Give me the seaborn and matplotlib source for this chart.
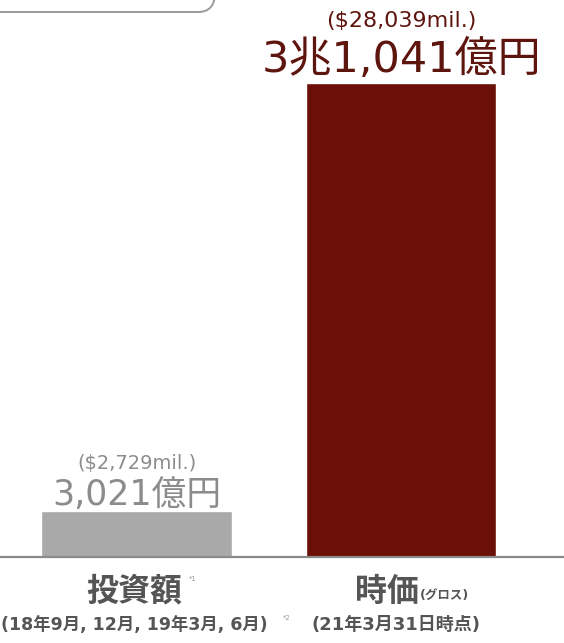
import matplotlib
matplotlib.use("Agg")
import matplotlib.pyplot as plt
from matplotlib.patches import FancyBboxPatch
import seaborn as sns
import pandas as pd

# Investment amount vs. market value (100 million yen)
categories = ["投資額", "時価"]
values_oku = [3021, 31041]
value_labels = ["3,021億円", "3兆1,041億円"]
usd_labels = ["($2,729mil.)", "($28,039mil.)"]
sub_notes = ["(18年9月, 12月, 19年3月, 6月)", "(21年3月31日時点)"]
bar_colors = ["#a9a9a9", "#6a1006"]
text_colors = ["#8c8c8c", "#5e150e"]

sns.set_theme(style="white")
plt.rcParams["font.family"] = ["DejaVu Sans", "Noto Sans CJK JP"]

df = pd.DataFrame({"cat": categories, "val": values_oku})

fig = plt.figure(figsize=(5.64, 6.43), dpi=100)
ax = fig.add_axes([0, 86 / 643, 1, 557 / 643])

sns.barplot(data=df, x="cat", y="val", hue="cat", palette=bar_colors,
            width=0.72, legend=False, ax=ax, saturation=1)

ax.set_xlim(-0.516, 1.616)
ax.set_ylim(0, values_oku[1] * 557 / 474)
ax.set_xlabel("")
ax.set_ylabel("")
ax.set_xticks([])
ax.set_yticks([])
for side in ["top", "left", "right"]:
    ax.spines[side].set_visible(False)
ax.spines["bottom"].set_color("#8a8a8a")
ax.spines["bottom"].set_linewidth(1.6)

# value labels above each bar (offsets in points, measured to the baseline)
big_sizes = [25, 31]
usd_sizes = [14, 16]
big_offsets = [4.5, 8]
usd_offsets = [30.5, 40]
for i, v in enumerate(values_oku):
    ax.annotate(value_labels[i], (i, v), xytext=(0, big_offsets[i]),
                textcoords="offset points", ha="center", va="baseline",
                fontsize=big_sizes[i], color=text_colors[i])
    ax.annotate(usd_labels[i], (i, v), xytext=(0, usd_offsets[i]),
                textcoords="offset points", ha="center", va="baseline",
                fontsize=usd_sizes[i], color=text_colors[i])

# category labels below the baseline
label_color = "#555555"
fig.text(134 / 564, 1 - 592 / 643, categories[0], ha="center", va="center",
         fontsize=23, fontweight="bold", color=label_color)
fig.text(189 / 564, 1 - 579 / 643, "*1", ha="left", va="center",
         fontsize=5, color="#999999")
fig.text(134 / 564, 1 - 625 / 643, sub_notes[0], ha="center", va="center",
         fontsize=12.5, fontweight="bold", color=label_color)
fig.text(283 / 564, 1 - 618 / 643, "*2", ha="left", va="center",
         fontsize=5, color="#999999")

fig.text(387 / 564, 1 - 592 / 643, categories[1], ha="center", va="center",
         fontsize=23, fontweight="bold", color=label_color)
fig.text(420 / 564, 1 - 595 / 643, "(グロス)", ha="left", va="center",
         fontsize=9, fontweight="bold", color=label_color)
fig.text(396 / 564, 1 - 625 / 643, sub_notes[1], ha="center", va="center",
         fontsize=13, fontweight="bold", color=label_color)

# rounded header tab running off the top edge
tab = FancyBboxPatch((-30 / 564, 1 - 12 / 643), 245 / 564, 0.1,
                     boxstyle="round,pad=0,rounding_size=0.03",
                     transform=fig.transFigure, fill=False,
                     edgecolor="#9a9a9a", linewidth=1.4, clip_on=False)
fig.patches.append(tab)

fig.savefig("out.png", dpi=100)
